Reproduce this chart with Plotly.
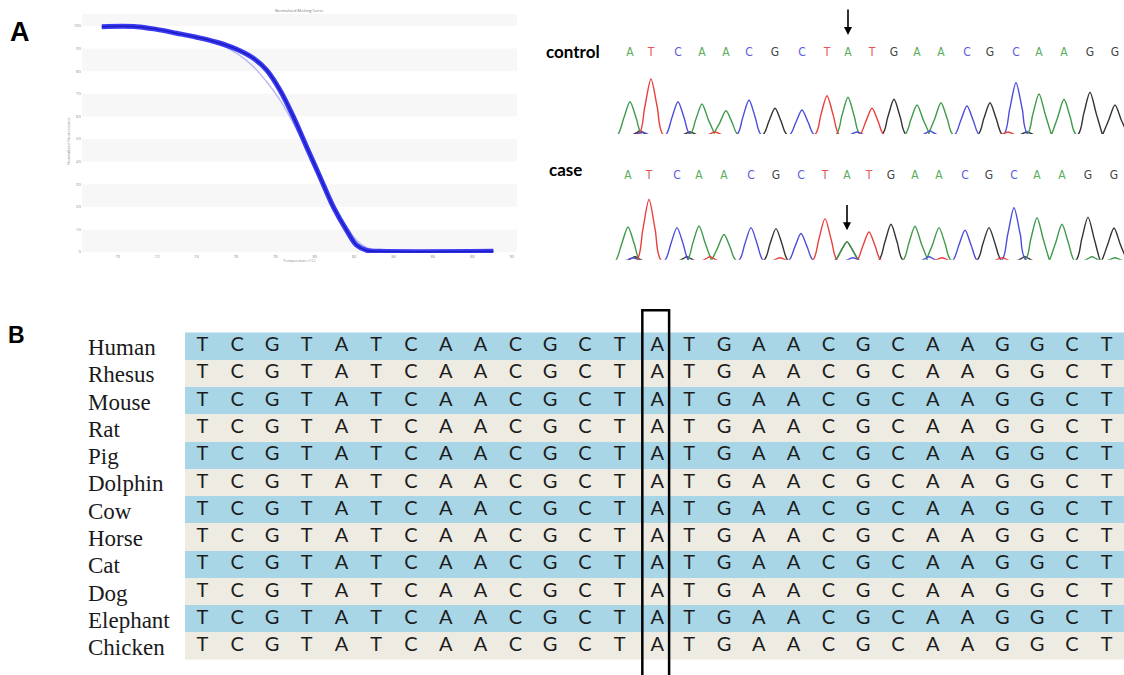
import plotly.graph_objects as go

W, H = 1124, 675

# ---------------- Panel A (left): normalized melting curve ----------------
melt_temp = [69.19, 70.96, 71.98, 72.99, 74.01, 75.03, 76.04, 76.89, 77.56, 78.24,
             78.92, 79.59, 80.27, 80.95, 81.62, 82.13, 82.64, 83.32, 89.07]
melt_main = [99.7, 99.7, 98.5, 96.8, 95.0, 92.8, 89.7, 85.7, 80.5, 71.6,
             59.8, 46.5, 33.2, 19.9, 9.6, 3.0, 0.7, 0.3, 0.3]
melt_light = [99.7, 99.7, 98.5, 96.5, 94.5, 92.3, 87.9, 82.0, 75.3, 67.2,
              56.9, 45.1, 33.2, 21.4, 11.1, 5.2, 1.9, 0.4, 0.3]
melt_xticks = [70, 72, 74, 76, 78, 80, 82, 84, 86, 88, 90]
melt_yticks = [0, 10, 20, 30, 40, 50, 60, 70, 80, 90, 100]

# ---------------- Panel A (right): sequencing chromatograms ----------------
base_calls = list("ATCAACGCTATGAACGCAAGG")
mut_index = 9
ctrl_pos = [30, 51, 78, 102, 126, 149, 175, 202, 227, 248, 272, 294, 317, 341,
            367, 390, 416, 439, 464, 490, 515]
ctrl_h = [33.3, 56, 33.3, 31, 24.3, 35, 26.7, 25, 39.3, 37.7, 26.7, 35.7, 30, 32.3,
          29, 32.3, 52.3, 41, 35.7, 42.7, 30]
ctrl_minor = [("G", 40, 4), ("C", 42, 3), ("G", 90, 3), ("T", 115, 3), ("C", 257, 3),
              ("C", 330, 4), ("T", 408, 3), ("G", 427, 3)]
case_pos = [28, 49, 77, 99, 124, 151, 176, 201, 225, 247, 269, 291, 315, 339,
            365, 389, 414, 437, 462, 488, 514]
case_h = [34, 61.7, 33.4, 35, 26.4, 33.4, 32.4, 27.4, 42.4, 19, 29, 36.7, 34.7, 33.4,
          30.7, 33.4, 53.4, 43.4, 36.7, 44, 33]
case_minor = [("G", 247, 19), ("G", 35, 4), ("C", 33, 3), ("G", 87, 4), ("T", 110, 4),
              ("T", 180, 3), ("C", 253, 3), ("C", 329, 4), ("T", 342, 3), ("T", 402, 3),
              ("G", 425, 4), ("A", 492, 4), ("A", 515, 3)]

# ---------------- Panel B: conservation alignment ----------------
species = ["Human", "Rhesus", "Mouse", "Rat", "Pig", "Dolphin", "Cow", "Horse",
           "Cat", "Dog", "Elephant", "Chicken"]
aln_seq = list("TCGTATCAACGCTATGAACGCAAGGCT")
aln_mut_col = 13

# ---------------- styles ----------------
trace_col = {"A": "#3f9a4c", "T": "#e8403c", "C": "#4d4ddb", "G": "#333333"}
letter_col = {"A": "#5aae5e", "T": "#e25858", "C": "#5a5ae0", "G": "#444444"}
band_blue, band_beige = "#a9d6e6", "#eeebe2"


def px_x(p):
    return p / W


def px_y(p):
    return 1 - p / H


fig = go.Figure()

# --- melting curve ---
fig.add_trace(go.Scatter(x=melt_temp, y=melt_light, mode="lines", line=dict(color="#bcbcf2", width=1.5, shape="spline"),
                         xaxis="x", yaxis="y", hoverinfo="skip", showlegend=False))
fig.add_trace(go.Scatter(x=melt_temp, y=melt_main, mode="lines", line=dict(color="#3a3af2", width=5, shape="spline"),
                         xaxis="x", yaxis="y", hoverinfo="skip", showlegend=False))
fig.add_trace(go.Scatter(x=melt_temp, y=melt_main, mode="lines", line=dict(color="#1c1cc0", width=1.5, shape="spline"),
                         xaxis="x", yaxis="y", hoverinfo="skip", showlegend=False))

xr_melt = [68.17, 90.27]
shapes = []
for lo in melt_yticks[0::2]:
    shapes.append(dict(type="rect", xref="x", yref="y", x0=xr_melt[0], x1=xr_melt[1], y0=lo, y1=min(lo + 10, 106),
                       fillcolor="#f7f7f7", line=dict(width=0), layer="below"))


# --- chromatograms ---
def chrom_traces(pos, hts, minor, xa, ya):
    peaks = {k: [] for k in "ATCG"}
    for b, p, h in zip(base_calls, pos, hts):
        peaks[b].append((p, h, 12.5))
    for b, p, h in minor:
        peaks[b].append((p, h, 12.5 if h > 10 else 8))
    for b in "GACT":
        xs, ys = [10], [0]
        for p, h, hw in sorted(peaks[b]):
            xs += [p - hw, p - hw * 0.5, p, p + hw * 0.5, p + hw]
            ys += [0, h * 0.5, h, h * 0.5, 0]
        xs.append(526)
        ys.append(0)
        fig.add_trace(go.Scatter(x=xs, y=ys, mode="lines", line=dict(color=trace_col[b], width=1.4, shape="spline", smoothing=0.8),
                                 xaxis=xa, yaxis=ya, hoverinfo="skip", showlegend=False))


def base_letters(pos, yv, xa, ya):
    fig.add_trace(go.Scatter(x=pos, y=[yv] * len(pos), mode="text", text=base_calls,
                             textfont=dict(family="Liberation Sans Narrow, DejaVu Sans Condensed, Liberation Sans", size=12,
                                           color=[letter_col[b] for b in base_calls]),
                             xaxis=xa, yaxis=ya, hoverinfo="skip", showlegend=False))


chrom_traces(ctrl_pos, ctrl_h, ctrl_minor, "x2", "y2")
base_letters(ctrl_pos, 81.7, "x2", "y2")
chrom_traces(case_pos, case_h, case_minor, "x3", "y3")
base_letters(case_pos, 85.7, "x3", "y3")

# --- alignment ---
nrow, ncol = len(species), len(aln_seq)
fig.add_trace(go.Heatmap(z=[[r % 2] * ncol for r in range(nrow)], x=list(range(ncol)), y=list(range(nrow)),
                         colorscale=[[0, band_blue], [1, band_beige]], zmin=0, zmax=1, showscale=False,
                         hoverinfo="skip", xaxis="x4", yaxis="y4"))
ax_, ay_, at_ = [], [], []
for r in range(nrow):
    for c, b in enumerate(aln_seq):
        ax_.append(c + (0.08 if c == aln_mut_col else 0))
        ay_.append(r)
        at_.append(b)
fig.add_trace(go.Scatter(x=ax_, y=ay_, mode="text", text=at_,
                         textfont=dict(family="Lato, Open Sans, sans-serif", size=20, color="#1c1c1c"),
                         xaxis="x4", yaxis="y4", hoverinfo="skip", showlegend=False))
shapes.append(dict(type="rect", xref="x4", yref="y4", x0=aln_mut_col - 0.35, x1=aln_mut_col + 0.42, y0=-1.32, y1=12.4,
                   line=dict(color="black", width=2.5), fillcolor="rgba(0,0,0,0)", layer="above"))

annotations = []
for r, name in enumerate(species):
    annotations.append(dict(text=name, xref="paper", x=px_x(86), xanchor="left", yref="y4", y=r + 0.05, yanchor="middle",
                            showarrow=False, font=dict(family="Liberation Serif, Times New Roman, serif", size=23, color="#1a1a1a")))


def label(text, x, y, size, family):
    return dict(text=text, xref="paper", yref="paper", x=px_x(x), y=px_y(y), xanchor="center", yanchor="middle",
                showarrow=False, font=dict(family=family, size=size, color="black"))


annotations += [
    label("<b>A</b>", 20, 32, 27, "Liberation Sans, Arial"),
    label("<b>B</b>", 16.5, 335, 23, "Liberation Sans, Arial"),
    label("<b>control</b>", 573, 52, 17, "Lato, Open Sans"),
    label("<b>case</b>", 565.5, 170, 17, "Lato, Open Sans"),
    # arrows at the variant position
    dict(text="", x=ctrl_pos[mut_index], y=100, ax=ctrl_pos[mut_index], ay=127, xref="x2", yref="y2",
         axref="x2", ayref="y2", showarrow=True, arrowhead=2, arrowsize=1, arrowwidth=1.6, arrowcolor="black"),
    dict(text="", x=case_pos[mut_index], y=30.7, ax=case_pos[mut_index], ay=57.7, xref="x3", yref="y3",
         axref="x3", ayref="y3", showarrow=True, arrowhead=2, arrowsize=1, arrowwidth=1.6, arrowcolor="black"),
    # melting plot title and axis titles
    dict(text="Normalized Melting Curve", xref="x domain", yref="paper", x=0.5, y=px_y(10.5), xanchor="center",
         yanchor="middle", showarrow=False, font=dict(size=4, color="#777")),
    dict(text="Temperature (°C)", xref="x domain", yref="paper", x=0.5, y=px_y(260), xanchor="center",
         yanchor="middle", showarrow=False, font=dict(size=4, color="#888")),
    dict(text="Normalized Fluorescence", xref="paper", yref="y domain", x=px_x(69), y=0.47, textangle=-90,
         xanchor="center", yanchor="middle", showarrow=False, font=dict(size=4, color="#888")),
]

hidden = dict(visible=False, fixedrange=True)
fig.update_layout(
    width=W, height=H, margin=dict(l=0, r=0, t=0, b=0),
    paper_bgcolor="white", plot_bgcolor="rgba(0,0,0,0)",
    showlegend=False,
    xaxis=dict(domain=[px_x(81.7), px_x(517)], range=xr_melt, tickvals=melt_xticks, showgrid=False, zeroline=False,
               showline=False, ticks="", tickfont=dict(size=4, color="#888"), anchor="y"),
    yaxis=dict(domain=[px_y(253), px_y(14)], range=[-0.44, 105.3], tickvals=melt_yticks, showgrid=False, zeroline=False,
               showline=False, ticks="", tickfont=dict(size=4, color="#888"), anchor="x"),
    xaxis2=dict(domain=[px_x(612), 1], range=[12, 524], anchor="y2", **hidden),
    yaxis2=dict(domain=[px_y(134), px_y(5)], range=[1, 130], anchor="x2", **hidden),
    xaxis3=dict(domain=[px_x(612), 1], range=[12, 524], anchor="y3", **hidden),
    yaxis3=dict(domain=[px_y(259.7), px_y(150)], range=[1, 111.7], anchor="x3", **hidden),
    xaxis4=dict(domain=[px_x(185), 1], range=[-0.5, 26.5], anchor="y4", **hidden),
    yaxis4=dict(domain=[0, px_y(305)], range=[12.05, -1.508], anchor="x4", **hidden),
    shapes=shapes, annotations=annotations,
)

fig.write_html("out.html", config={"displayModeBar": False},
               post_script="document.body.style.margin='0px';document.body.style.overflow='hidden';")
